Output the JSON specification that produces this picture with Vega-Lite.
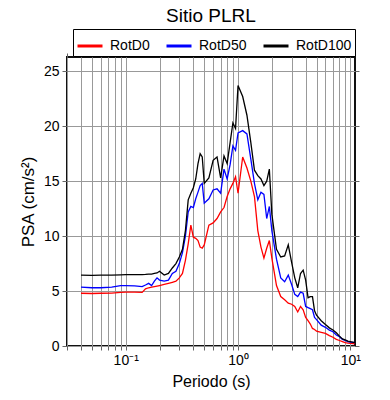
{
  "$schema": "https://vega.github.io/schema/vega-lite/v6.json",
  "width": 288,
  "height": 289,
  "autosize": {"type": "none"},
  "padding": {"left": 67, "top": 57, "right": 35, "bottom": 54},
  "title": {"text": "Sitio PLRL", "fontSize": 19, "font": "Liberation Sans", "fontWeight": "normal", "color": "black", "anchor": "middle", "baseline": "alphabetic", "offset": -12},
  "config": {"view": {"stroke": "#111", "strokeWidth": 2}, "font": "Liberation Sans"},
  "data": {"values": [
    {"T": 0.04, "RotD0": 4.8, "RotD50": 5.35, "RotD100": 6.45},
    {"T": 0.05, "RotD0": 4.78, "RotD50": 5.3, "RotD100": 6.42},
    {"T": 0.06, "RotD0": 4.8, "RotD50": 5.3, "RotD100": 6.45},
    {"T": 0.075, "RotD0": 4.82, "RotD50": 5.35, "RotD100": 6.45},
    {"T": 0.09, "RotD0": 4.88, "RotD50": 5.5, "RotD100": 6.48},
    {"T": 0.1, "RotD0": 4.9, "RotD50": 5.5, "RotD100": 6.5},
    {"T": 0.12, "RotD0": 4.9, "RotD50": 5.48, "RotD100": 6.5},
    {"T": 0.14, "RotD0": 4.88, "RotD50": 5.4, "RotD100": 6.5},
    {"T": 0.15, "RotD0": 5.2, "RotD50": 5.55, "RotD100": 6.52},
    {"T": 0.16, "RotD0": 5.3, "RotD50": 5.7, "RotD100": 6.55},
    {"T": 0.17, "RotD0": 5.35, "RotD50": 5.5, "RotD100": 6.55},
    {"T": 0.18, "RotD0": 5.4, "RotD50": 5.9, "RotD100": 6.6},
    {"T": 0.19, "RotD0": 5.45, "RotD50": 6.2, "RotD100": 6.65},
    {"T": 0.2, "RotD0": 5.5, "RotD50": 6.0, "RotD100": 6.8},
    {"T": 0.22, "RotD0": 5.6, "RotD50": 5.9, "RotD100": 6.45},
    {"T": 0.24, "RotD0": 5.7, "RotD50": 6.0, "RotD100": 6.6},
    {"T": 0.26, "RotD0": 5.8, "RotD50": 6.6, "RotD100": 7.1},
    {"T": 0.28, "RotD0": 5.9, "RotD50": 6.8, "RotD100": 7.5},
    {"T": 0.3, "RotD0": 6.2, "RotD50": 7.5, "RotD100": 8.1},
    {"T": 0.32, "RotD0": 6.6, "RotD50": 8.5, "RotD100": 8.8},
    {"T": 0.34, "RotD0": 7.8, "RotD50": 10.0, "RotD100": 10.5},
    {"T": 0.36, "RotD0": 9.3, "RotD50": 12.2, "RotD100": 13.3},
    {"T": 0.38, "RotD0": 11.0, "RotD50": 12.7, "RotD100": 13.9},
    {"T": 0.4, "RotD0": 9.9, "RotD50": 12.6, "RotD100": 14.4},
    {"T": 0.42, "RotD0": 9.8, "RotD50": 13.4, "RotD100": 15.2},
    {"T": 0.44, "RotD0": 9.6, "RotD50": 14.0, "RotD100": 16.6},
    {"T": 0.46, "RotD0": 9.0, "RotD50": 14.6, "RotD100": 17.5},
    {"T": 0.48, "RotD0": 8.9, "RotD50": 14.8, "RotD100": 17.2},
    {"T": 0.5, "RotD0": 9.2, "RotD50": 13.0, "RotD100": 14.8},
    {"T": 0.55, "RotD0": 11.0, "RotD50": 13.4, "RotD100": 15.3},
    {"T": 0.6, "RotD0": 11.2, "RotD50": 14.2, "RotD100": 16.9},
    {"T": 0.65, "RotD0": 11.6, "RotD50": 14.3, "RotD100": 17.2},
    {"T": 0.7, "RotD0": 12.2, "RotD50": 13.9, "RotD100": 15.3},
    {"T": 0.75, "RotD0": 12.6, "RotD50": 16.1, "RotD100": 17.3},
    {"T": 0.8, "RotD0": 13.6, "RotD50": 15.2, "RotD100": 16.6},
    {"T": 0.85, "RotD0": 14.3, "RotD50": 16.5, "RotD100": 18.5},
    {"T": 0.9, "RotD0": 14.8, "RotD50": 18.2, "RotD100": 20.3},
    {"T": 0.95, "RotD0": 15.4, "RotD50": 17.8, "RotD100": 19.8},
    {"T": 1.0, "RotD0": 13.9, "RotD50": 19.4, "RotD100": 23.7},
    {"T": 1.1, "RotD0": 17.2, "RotD50": 19.6, "RotD100": 22.7},
    {"T": 1.2, "RotD0": 16.2, "RotD50": 19.3, "RotD100": 21.0},
    {"T": 1.3, "RotD0": 15.0, "RotD50": 17.0, "RotD100": 18.5},
    {"T": 1.4, "RotD0": 13.6, "RotD50": 14.8, "RotD100": 16.0},
    {"T": 1.5, "RotD0": 10.5, "RotD50": 13.3, "RotD100": 15.5},
    {"T": 1.6, "RotD0": 9.0, "RotD50": 14.0, "RotD100": 15.2},
    {"T": 1.7, "RotD0": 8.0, "RotD50": 13.8, "RotD100": 14.6},
    {"T": 1.8, "RotD0": 8.9, "RotD50": 11.6, "RotD100": 15.0},
    {"T": 1.9, "RotD0": 9.6, "RotD50": 12.7, "RotD100": 16.1},
    {"T": 2.0, "RotD0": 8.0, "RotD50": 10.5, "RotD100": 12.0},
    {"T": 2.2, "RotD0": 5.5, "RotD50": 7.9, "RotD100": 8.8},
    {"T": 2.4, "RotD0": 4.5, "RotD50": 6.2, "RotD100": 8.1},
    {"T": 2.6, "RotD0": 4.2, "RotD50": 5.85, "RotD100": 8.2},
    {"T": 2.8, "RotD0": 3.9, "RotD50": 6.45, "RotD100": 9.2},
    {"T": 3.0, "RotD0": 3.8, "RotD50": 5.6, "RotD100": 7.6},
    {"T": 3.2, "RotD0": 3.6, "RotD50": 4.7, "RotD100": 6.2},
    {"T": 3.4, "RotD0": 3.1, "RotD50": 4.5, "RotD100": 5.3},
    {"T": 3.6, "RotD0": 3.6, "RotD50": 4.9, "RotD100": 6.6},
    {"T": 3.8, "RotD0": 3.3, "RotD50": 4.8, "RotD100": 6.9},
    {"T": 4.0, "RotD0": 2.6, "RotD50": 3.6, "RotD100": 6.0},
    {"T": 4.2, "RotD0": 2.3, "RotD50": 3.5, "RotD100": 4.4},
    {"T": 4.4, "RotD0": 2.0, "RotD50": 3.4, "RotD100": 4.5},
    {"T": 4.6, "RotD0": 1.6, "RotD50": 3.3, "RotD100": 4.5},
    {"T": 4.8, "RotD0": 1.5, "RotD50": 2.6, "RotD100": 3.2},
    {"T": 5.0, "RotD0": 1.35, "RotD50": 2.4, "RotD100": 2.8},
    {"T": 5.5, "RotD0": 1.25, "RotD50": 1.9, "RotD100": 2.3},
    {"T": 6.0, "RotD0": 1.15, "RotD50": 1.7, "RotD100": 1.95},
    {"T": 6.5, "RotD0": 0.95, "RotD50": 1.45, "RotD100": 1.65},
    {"T": 7.0, "RotD0": 0.8, "RotD50": 1.3, "RotD100": 1.45},
    {"T": 7.5, "RotD0": 0.6, "RotD50": 1.0, "RotD100": 1.2},
    {"T": 8.0, "RotD0": 0.5, "RotD50": 0.85, "RotD100": 0.9},
    {"T": 8.5, "RotD0": 0.4, "RotD50": 0.6, "RotD100": 0.65},
    {"T": 9.0, "RotD0": 0.3, "RotD50": 0.5, "RotD100": 0.55},
    {"T": 9.5, "RotD0": 0.27, "RotD50": 0.4, "RotD100": 0.45},
    {"T": 10.0, "RotD0": 0.25, "RotD50": 0.35, "RotD100": 0.4},
    {"T": 11.0, "RotD0": 0.2, "RotD50": 0.3, "RotD100": 0.3}
  ]},
  "transform": [{"fold": ["RotD0", "RotD50", "RotD100"], "as": ["serie", "psa"]}],
  "layer": [
    {
      "mark": {"type": "line", "strokeOpacity": 0},
      "encoding": {
        "x": {"field": "T", "type": "quantitative",
          "scale": {"type": "log", "domain": [0.03, 11], "nice": false},
          "axis": {"orient": "top", "values": [0.03,0.04,0.05,0.06,0.07,0.08,0.09,0.1,0.2,0.3,0.4,0.5,0.6,0.7,0.8,0.9,1,2,3,4,5,6,7,8,9,10], "labels": false, "grid": false, "domain": false, "title": null, "tickSize": 4, "tickColor": "#666"}},
        "y": {"field": "psa", "type": "quantitative",
          "scale": {"domain": [0, 26.3], "nice": false},
          "axis": {"orient": "right", "values": [0,5,10,15,20,25], "labels": false, "grid": false, "domain": false, "title": null, "tickSize": 4, "tickColor": "#666"}},
        "detail": {"field": "serie"}
      }
    },
    {
      "mark": {"type": "line", "strokeWidth": 1.3},
      "encoding": {
        "x": {"field": "T", "type": "quantitative",
          "scale": {"type": "log", "domain": [0.03, 11], "nice": false},
          "axis": {"orient": "bottom", "values": [0.03,0.04,0.05,0.06,0.07,0.08,0.09,0.1,0.2,0.3,0.4,0.5,0.6,0.7,0.8,0.9,1,2,3,4,5,6,7,8,9,10],
            "labelExpr": "datum.value == 0.1 ? '10⁻¹' : datum.value == 1 ? '10⁰' : datum.value == 10 ? '10¹' : ''",
            "labelOverlap": false, "labelFlush": false, "labelFontSize": 14, "labelColor": "black", "labelPadding": 3,
            "grid": true, "gridColor": "#999", "gridWidth": 1, "domain": false, "tickSize": 4, "tickColor": "#666",
            "title": "Periodo (s)", "titleFontSize": 16, "titleFontWeight": "normal", "titleColor": "black", "titlePadding": 6}},
        "y": {"field": "psa", "type": "quantitative",
          "scale": {"domain": [0, 26.3], "nice": false},
          "axis": {"orient": "left", "values": [0,5,10,15,20,25], "labelFontSize": 14, "labelColor": "black", "labelPadding": 3,
            "grid": true, "gridColor": "#999", "gridWidth": 1, "domain": false, "tickSize": 5, "tickColor": "#666",
            "title": "PSA (cm/s²)", "titleFontSize": 17, "titleFontWeight": "normal", "titleColor": "black", "titlePadding": 6}},
        "color": {"field": "serie", "type": "nominal",
          "scale": {"domain": ["RotD0", "RotD50", "RotD100"], "range": ["#ff0000", "#0000ff", "#000000"]},
          "legend": {"orient": "none", "legendX": 6, "legendY": -28, "direction": "horizontal", "title": null,
            "symbolType": "stroke", "symbolSize": 625, "symbolStrokeWidth": 3, "labelFontSize": 14, "labelColor": "black",
            "labelOffset": 6, "columnPadding": 10, "padding": 3, "strokeColor": "black", "fillColor": "white"}}
      }
    }
  ],
  "resolve": {"axis": {"x": "independent", "y": "independent"}}
}
